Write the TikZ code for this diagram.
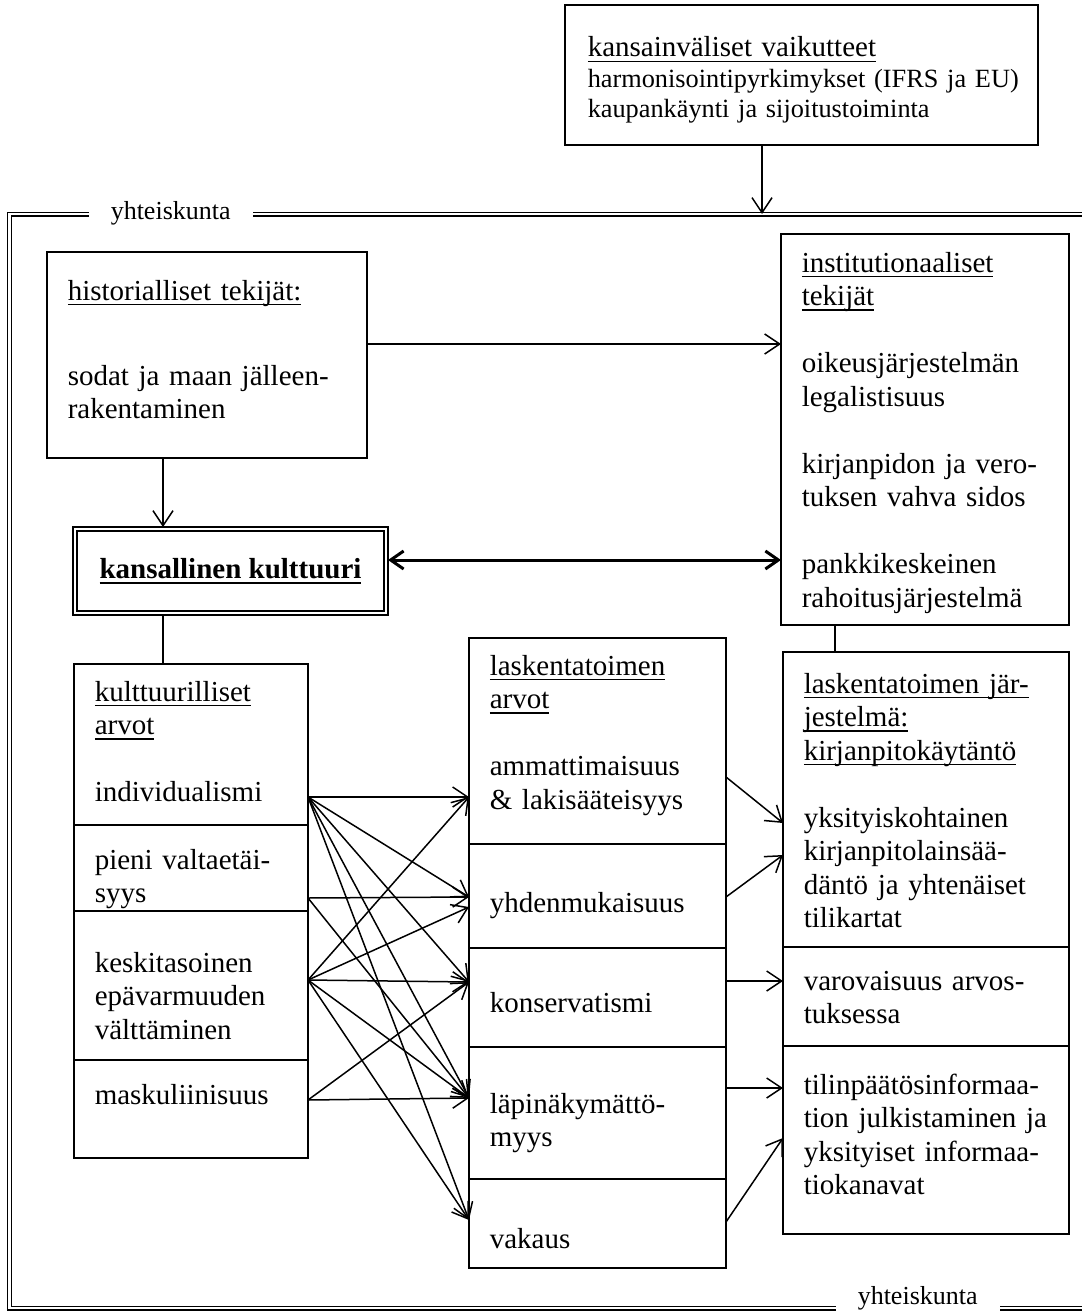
\documentclass[tikz,border=0pt]{standalone}
\usepackage{fontspec}
\setmainfont{Liberation Serif}
\usetikzlibrary{arrows.meta}

\newsavebox{\ulbox}
\newcommand{\ul}[1]{\leavevmode\sbox{\ulbox}{#1}\rlap{\rule[-5.4pt]{\wd\ulbox}{1.5pt}}\usebox{\ulbox}}
\newcommand{\bodyfont}{\fontsize{29}{33.5}\selectfont}
\newcommand{\smallfont}{\fontsize{26.3}{29.5}\selectfont}
\newcommand{\gap}{\\[33.5pt]}

\tikzset{
  box/.style={draw, inner sep=0pt, outer sep=0pt},
  txt/.style={anchor=base west, inner sep=0pt, text width=440pt, align=left, font=\bodyfont},
  lbl/.style={anchor=base west, fill=white, inner xsep=22pt, inner ysep=3pt, font=\fontsize{26}{30}\selectfont},
  arr/.style={-{Straight Barb[length=15pt,width=20pt]}},
  twoway/.style={{Straight Barb[length=13pt,width=18pt]}-{Straight Barb[length=13pt,width=18pt]}, line width=3pt},
}

\begin{document}
\begin{tikzpicture}[x=1pt, y=-1pt, line width=1.5pt]
    \useasboundingbox (0,0) rectangle (1081,1311);

    % society frame and the outside box
    \node[draw, double, double distance=2.4pt, line width=1.3pt, inner sep=0pt, outer sep=0pt,
          minimum width=1090.5, minimum height=1094] (yk) at (554.75,761) {};
    \node[box, minimum width=473, minimum height=140] (intl) at (801.5,75) {};
    \node[txt] (intlT) at (587,57) {\ul{kansainväliset vaikutteet}};
    \node[txt, font=\smallfont] (intlL) at (587,88) {harmonisointipyrkimykset (IFRS ja EU)\\kaupankäynti ja sijoitustoiminta};

    \node[lbl] (ykT) at (88,219) {yhteiskunta};
    \node[lbl] (ykB) at (835,1304) {yhteiskunta};

    % history and national culture
    \node[box, minimum width=320, minimum height=206] (hist) at (207,355) {};
    \node[txt] (histT) at (67,300) {\ul{historialliset tekijät:}};
    \node[txt] (histL) at (67,385) {sodat ja maan jälleen-\\rakentaminen};

    \node[box, line width=2.4pt, minimum width=315, minimum height=88, font=\bodyfont\bfseries] (kans) at (230.5,571) {\ul{kansallinen kulttuuri}};
    \draw ([shift={(4,4)}]kans.north west) rectangle ([shift={(-4,-4)}]kans.south east);

    % institutions
    \node[box, minimum width=288, minimum height=391] (inst) at (925,429.5) {};
    \node[txt] (instT) at (801,272) {\ul{institutionaaliset}\\\ul{tekijät}\gap
        oikeusjärjestelmän\\legalistisuus\gap
        kirjanpidon ja vero-\\tuksen vahva sidos\gap
        pankkikeskeinen\\rahoitusjärjestelmä};

    % cultural values
    \node[box, minimum width=234, minimum height=161] (cI) at (191,744.5) {};
    \node[box, minimum width=234, minimum height=86] (cP) at (191,868) {};
    \node[box, minimum width=234, minimum height=149] (cK) at (191,985.5) {};
    \node[box, minimum width=234, minimum height=98] (cM) at (191,1109) {};
    \node[txt] (cIt) at (94,701) {\ul{kulttuurilliset}\\\ul{arvot}\gap individualismi};
    \node[txt] (cPt) at (94,869) {pieni valtaetäi-\\syys};
    \node[txt] (cKt) at (94,972) {keskitasoinen\\epävarmuuden\\välttäminen};
    \node[txt] (cMt) at (94,1104) {maskuliinisuus};

    % accounting values
    \node[box, minimum width=257, minimum height=206] (aA) at (597.5,741) {};
    \node[box, minimum width=257, minimum height=104] (aY) at (597.5,896) {};
    \node[box, minimum width=257, minimum height=99] (aC) at (597.5,997.5) {};
    \node[box, minimum width=257, minimum height=132] (aL) at (597.5,1113) {};
    \node[box, minimum width=257, minimum height=89] (aV) at (597.5,1223.5) {};
    \node[txt] (aAt) at (489,675) {\ul{laskentatoimen}\\\ul{arvot}\gap ammattimaisuus\\\& lakisääteisyys};
    \node[txt] (aYt) at (489,912) {yhdenmukaisuus};
    \node[txt] (aCt) at (489,1012) {konservatismi};
    \node[txt] (aLt) at (489,1113) {läpinäkymättö-\\myys};
    \node[txt] (aVt) at (489,1248) {vakaus};

    % accounting system
    \node[box, minimum width=286, minimum height=295] (s1) at (926,799.5) {};
    \node[box, minimum width=286, minimum height=99] (s2) at (926,996.5) {};
    \node[box, minimum width=286, minimum height=188] (s3) at (926,1140) {};
    \node[txt] (s1t) at (803,693) {\ul{laskentatoimen jär-}\\\ul{jestelmä:}\\\ul{kirjanpitokäytäntö}\gap
        yksityiskohtainen\\kirjanpitolainsää-\\däntö ja yhtenäiset\\tilikartat};
    \node[txt] (s2t) at (803,990) {varovaisuus arvos-\\tuksessa};
    \node[txt] (s3t) at (803,1094) {tilinpäätösinformaa-\\tion julkistaminen ja\\yksityiset informaa-\\tiokanavat};

    % rows and columns where the connectors run
    \coordinate (colT) at (762,0);
    \coordinate (colH) at (163,0);
    \coordinate (colI) at (835,0);
    \coordinate (rowH) at (0,344);
    \coordinate (rowK) at (0,560);
    \foreach \n/\y in {oI/797, oP/898, oK/980, oM/1100,
                       tA/797, tY/897, tY2/907, tC/982, tL/1098, tV/1220,
                       uA/777, uY/897, uC/981, uL/1088, uV/1222,
                       vA/823, vY/855, vC/981, vL/1088, vV/1138}
        \coordinate (\n) at (0,\y);

    \draw[arr] (intl.south -| colT) -- (yk.north -| colT);
    \draw[arr] (hist.south -| colH) -- (kans.north -| colH);
    \draw[arr] (hist.east |- rowH) -- (inst.west |- rowH);
    \draw[twoway] (kans.east |- rowK) -- (inst.west |- rowK);
    \draw (kans.south -| colH) -- (cI.north -| colH);
    \draw (inst.south -| colI) -- (s1.north -| colI);

    % cultural values -> accounting values
    \foreach \s/\t in {I/A, I/Y, I/C, I/L, I/V, P/Y, P/L,
                       K/A, K/Y2, K/C, K/L, K/V, M/C, M/L}
        \draw[arr] (cI.east |- o\s) -- (aA.west |- t\t);

    % accounting values -> system
    \foreach \a/\b in {A/1, Y/1, C/2, L/3, V/3}
        \draw[arr] (a\a.east |- u\a) -- (s\b.west |- v\a);
\end{tikzpicture}
\end{document}
